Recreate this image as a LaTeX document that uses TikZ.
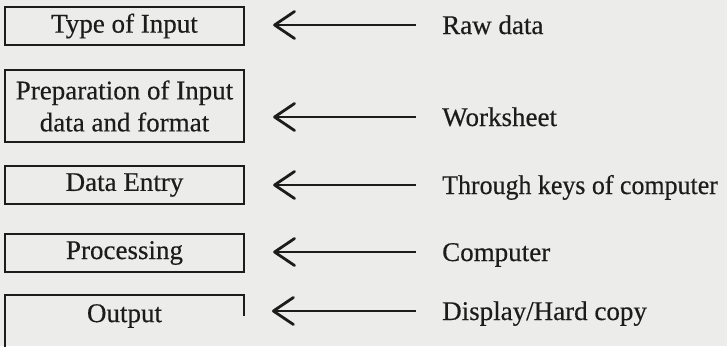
\documentclass[tikz,border=0pt]{standalone}
\usepackage{fontspec}
\setmainfont[FakeBold=0.4]{Liberation Serif}
\newfontfamily\narrowserif[FakeBold=0.4,FakeStretch=0.96]{Liberation Serif}
\usetikzlibrary{arrows.meta}
\definecolor{paper}{RGB}{236,236,234}
\definecolor{ink}{RGB}{28,28,28}
\begin{document}
\begin{tikzpicture}[x=1pt,y=-1pt,
  stagebox/.style={draw=ink, line width=2.3pt, minimum width=239pt, inner sep=0pt,
    align=center, text=ink, font=\fontsize{27}{32}\selectfont},
  stagetext/.style={inner sep=0pt, align=center, text=ink, font=\fontsize{27}{32}\selectfont},
  srclabel/.style={anchor=west, inner sep=0pt, text height=18pt, text depth=0pt,
    text=ink, font=\fontsize{27}{32}\selectfont},
  feed/.style={draw=ink, line width=2.3pt,
    -{Straight Barb[length=20pt,width=27pt,line width=2.8pt,round]},
    shorten <=26pt, shorten >=28pt},
  boxline/.style={draw=ink, line width=2.3pt}]
\fill[paper] (0,0) rectangle (727,346);
\useasboundingbox (0,0) rectangle (727,346);

% stages
\node[stagebox, minimum height=38pt] (b1) at (124.5,26) {Type of Input};
\node[stagebox, minimum height=72pt] (b2) at (124.5,106) {Preparation of Input\\data and format};
\node[stagebox, minimum height=38pt] (b3) at (124.5,185) {Data Entry};
\node[stagebox, minimum height=38pt] (b4) at (124.5,253) {Processing};
\node[stagetext] (b5) at (124.5,316) {Output};
\coordinate (b5bl) at (5,348);
\coordinate (b5tl) at (5,295);
\coordinate (b5tr) at (244,295);
\coordinate (b5r) at (244,316);
\draw[boxline] (b5bl) -- (b5tl) -- (b5tr) -- (b5r);

% sources
\node[srclabel] (l1) at (442,25) {Raw data};
\node[srclabel] (l2) at (442,117) {Worksheet};
\node[srclabel, font=\narrowserif\fontsize{27}{32}\selectfont] (l3) at (442,185) {Through keys of computer};
\node[srclabel] (l4) at (442,252) {Computer};
\node[srclabel] (l5) at (442,311) {Display/Hard copy};

% connectors
\draw[feed] (l1.west) -- (l1.west -| b1.east);
\draw[feed] (l2.west) -- (l2.west -| b2.east);
\draw[feed] (l3.west) -- (l3.west -| b3.east);
\draw[feed] (l4.west) -- (l4.west -| b4.east);
\draw[feed] (l5.west) -- (l5.west -| b5tr);
\end{tikzpicture}
\end{document}
